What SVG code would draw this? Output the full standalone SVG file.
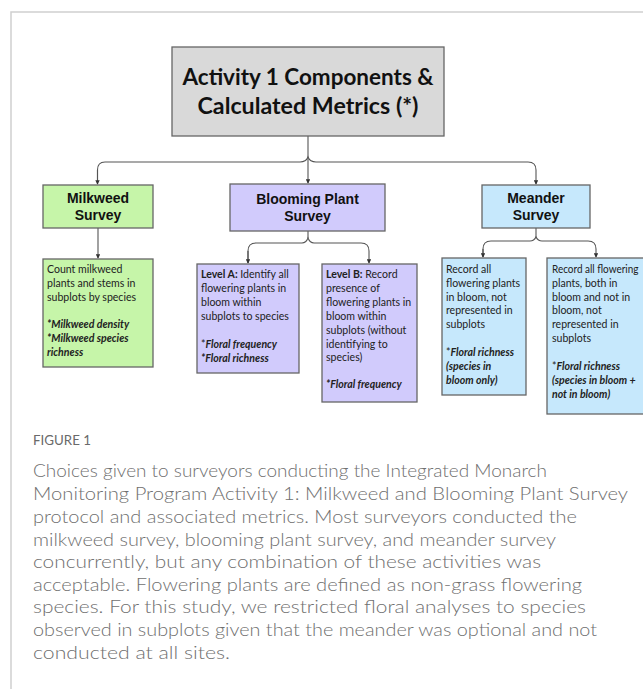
<svg xmlns="http://www.w3.org/2000/svg" width="643" height="689" viewBox="0 0 643 689">
<style>
.box{stroke:#666;stroke-width:1.3}
.gray{fill:#d9d9d9}
.green{fill:#c6f5a9}
.purple{fill:#d1cbfc}
.blue{fill:#c6e8fc}
.title{font-family:Lato,"Liberation Sans",sans-serif;font-weight:700;font-size:23px;fill:#111;text-anchor:middle}
.head{font-family:"Liberation Sans",Arial,sans-serif;font-weight:700;font-size:14px;fill:#111;text-anchor:middle}
.body{font-family:Lato,"Liberation Sans",sans-serif;font-size:11.6px;fill:#222}
.b{font-weight:700}
.bi{font-weight:700;font-style:italic}
.con{fill:none;stroke:#555;stroke-width:1.1}
.cap{font-family:Lato,"Liberation Sans",sans-serif;font-weight:300;font-size:18px;fill:#6f6f6f}
.fig{font-family:Lato,"Liberation Sans",sans-serif;font-size:12.5px;fill:#6a6a6a}
.frame{stroke:#d0d0d0;stroke-width:1.5;fill:none}
</style>
<defs>
<marker id="arr" viewBox="0 0 6 6" refX="5" refY="3" markerWidth="4" markerHeight="4" orient="auto">
<path d="M0 0 L6 3 L0 6 Z" fill="#333"/>
</marker>
</defs>
<rect width="643" height="689" fill="#fff"/>
<path class="frame" d="M11 689 V12 H643"/>

<g id="connectors">
<path class="con" d="M308 136 V183" marker-end="url(#arr)"/>
<path class="con" d="M97.5 184 V170 Q97.5 162 105 162 H300 Q306 162 308 157 Q310 162 316 162 H528 Q536 162 536 170 V184" marker-end="url(#arr)"/>
<path class="con" d="M97.5 184 V170" marker-end="url(#arr)" transform="rotate(180 97.5 177)"/>
<path class="con" d="M98 228 V258" marker-end="url(#arr)"/>
<path class="con" d="M308 231 V238"/>
<path class="con" d="M248 263 V251 Q248 243 256 243 H302 Q306 243 308 238 Q310 243 314 243 H361 Q369 243 369 251 V263" marker-end="url(#arr)"/>
<path class="con" d="M248 251 V263" marker-end="url(#arr)"/>
<path class="con" d="M536 228 V238"/>
<path class="con" d="M483 257 V249 Q483 241 491 241 H530 Q534 241 536 237 Q538 241 542 241 H588 Q596 241 596 249 V257" marker-end="url(#arr)"/>
<path class="con" d="M483 249 V257" marker-end="url(#arr)"/>
</g>

<g id="title">
<rect class="box gray" x="172" y="47" width="272" height="89"/>
<text class="title" x="308" y="85" textLength="251" lengthAdjust="spacingAndGlyphs">Activity 1 Components &amp;</text>
<text class="title" x="308" y="114" textLength="221" lengthAdjust="spacingAndGlyphs">Calculated Metrics (*)</text>
</g>

<g id="milkweed">
<rect class="box green" x="43" y="185" width="110" height="43"/>
<text class="head" x="98" y="203">Milkweed</text>
<text class="head" x="98" y="220">Survey</text>
</g>

<g id="blooming">
<rect class="box purple" x="230" y="184" width="155" height="47"/>
<text class="head" x="307.5" y="204">Blooming Plant</text>
<text class="head" x="307.5" y="221">Survey</text>
</g>

<g id="meander">
<rect class="box blue" x="482" y="185" width="108" height="43"/>
<text class="head" x="536" y="203">Meander</text>
<text class="head" x="536" y="220">Survey</text>
</g>

<g id="milkweed-detail">
<rect class="box green" x="43" y="259" width="110" height="108"/>
<g transform="translate(47 0) scale(0.91 1)">
<text class="body" x="0" y="273">Count milkweed</text>
<text class="body" x="0" y="287">plants and stems in</text>
<text class="body" x="0" y="301">subplots by species</text>
<text class="body bi" x="0" y="328">*Milkweed density</text>
<text class="body bi" x="0" y="342">*Milkweed species</text>
<text class="body bi" x="0" y="356">richness</text>
</g>
</g>

<g id="level-a">
<rect class="box purple" x="197" y="264" width="102" height="109"/>
<g transform="translate(201 0) scale(0.91 1)">
<text class="body" x="0" y="278"><tspan class="b">Level A:</tspan> Identify all</text>
<text class="body" x="0" y="292">flowering plants in</text>
<text class="body" x="0" y="306">bloom within</text>
<text class="body" x="0" y="320">subplots to species</text>
<text class="body" x="0" y="348">*<tspan class="bi">Floral frequency</tspan></text>
<text class="body bi" x="0" y="362">*Floral richness</text>
</g>
</g>

<g id="level-b">
<rect class="box purple" x="322" y="264" width="95" height="138"/>
<g transform="translate(326 0) scale(0.91 1)">
<text class="body" x="0" y="278"><tspan class="b">Level B:</tspan> Record</text>
<text class="body" x="0" y="292">presence of</text>
<text class="body" x="0" y="306">flowering plants in</text>
<text class="body" x="0" y="320">bloom within</text>
<text class="body" x="0" y="334">subplots (without</text>
<text class="body" x="0" y="348">identifying to</text>
<text class="body" x="0" y="361">species)</text>
<text class="body bi" x="0" y="388">*Floral frequency</text>
</g>
</g>

<g id="meander-a">
<rect class="box blue" x="442" y="258" width="84" height="137"/>
<g transform="translate(446 0) scale(0.91 1)">
<text class="body" x="0" y="273">Record all</text>
<text class="body" x="0" y="287">flowering plants</text>
<text class="body" x="0" y="301">in bloom, not</text>
<text class="body" x="0" y="314">represented in</text>
<text class="body" x="0" y="328">subplots</text>
<text class="body" x="0" y="356">*<tspan class="bi">Floral richness</tspan></text>
<text class="body bi" x="0" y="370">(species in</text>
<text class="body bi" x="0" y="384">bloom only)</text>
</g>
</g>

<g id="meander-b">
<rect class="box blue" x="547" y="258" width="100" height="156"/>
<g transform="translate(552 0) scale(0.91 1)">
<text class="body" x="0" y="273" textLength="95" lengthAdjust="spacingAndGlyphs">Record all flowering</text>
<text class="body" x="0" y="287">plants, both in</text>
<text class="body" x="0" y="301">bloom and not in</text>
<text class="body" x="0" y="314">bloom, not</text>
<text class="body" x="0" y="328">represented in</text>
<text class="body" x="0" y="342">subplots</text>
<text class="body" x="0" y="370">*<tspan class="bi">Floral richness</tspan></text>
<text class="body bi" x="0" y="384">(species in bloom +</text>
<text class="body bi" x="0" y="398">not in bloom)</text>
</g>
</g>

<g id="caption">
<text class="fig" x="33" y="445" textLength="58" lengthAdjust="spacingAndGlyphs">FIGURE 1</text>
<text class="cap" x="33" y="477" textLength="514" lengthAdjust="spacingAndGlyphs">Choices given to surveyors conducting the Integrated Monarch</text>
<text class="cap" x="33" y="500" textLength="595" lengthAdjust="spacingAndGlyphs">Monitoring Program Activity 1: Milkweed and Blooming Plant Survey</text>
<text class="cap" x="33" y="523" textLength="544" lengthAdjust="spacingAndGlyphs">protocol and associated metrics. Most surveyors conducted the</text>
<text class="cap" x="33" y="546" textLength="523" lengthAdjust="spacingAndGlyphs">milkweed survey, blooming plant survey, and meander survey</text>
<text class="cap" x="33" y="568" textLength="508" lengthAdjust="spacingAndGlyphs">concurrently, but any combination of these activities was</text>
<text class="cap" x="33" y="591" textLength="549" lengthAdjust="spacingAndGlyphs">acceptable. Flowering plants are defined as non-grass flowering</text>
<text class="cap" x="33" y="613" textLength="553" lengthAdjust="spacingAndGlyphs">species. For this study, we restricted floral analyses to species</text>
<text class="cap" x="33" y="636" textLength="564" lengthAdjust="spacingAndGlyphs">observed in subplots given that the meander was optional and not</text>
<text class="cap" x="33" y="659" textLength="197" lengthAdjust="spacingAndGlyphs">conducted at all sites.</text>
</g>
</svg>
